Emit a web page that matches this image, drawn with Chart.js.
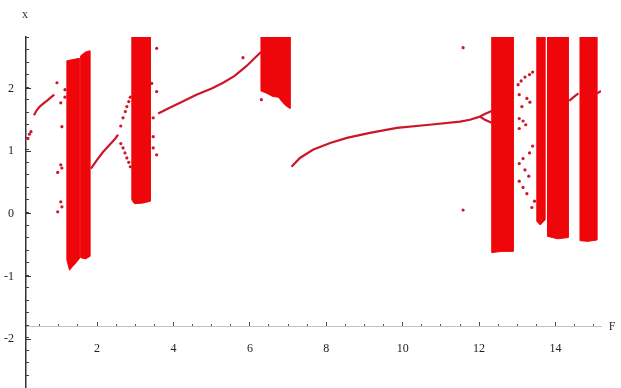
<!DOCTYPE html>
<html>
<head>
<meta charset="utf-8">
<script src="https://cdn.jsdelivr.net/npm/chart.js@4.4.0/dist/chart.umd.min.js"></script>
<style>
    html, body { margin: 0; padding: 0; background: #fff; }
    #wrap { width: 621px; height: 388px; }
</style>
</head>
<body>
<div id="wrap"><canvas id="bifurcation"></canvas></div>
<script>
// Plot range and where the F axis crosses
const xMin = 0.14, xMax = 15.19;
const yMin = -2.78, yMax = 2.82;
const axisCrossY = -1.8;

const xTickValues = [2, 4, 6, 8, 10, 12, 14];
const yTickValues = [-2, -1, 0, 1, 2];

// Chaotic bands: upper and lower edges, left to right (tops above 2.82 get clipped)
const band1aTop = [[1.21, 2.44], [1.53, 2.48]];
const band1aBottom = [[1.21, -0.74], [1.28, -0.9], [1.36, -0.84], [1.45, -0.78], [1.53, -0.72]];
const band1bTop = [[1.57, 2.52], [1.7, 2.58], [1.81, 2.6]];
const band1bBottom = [[1.57, -0.7], [1.7, -0.72], [1.81, -0.68]];
const band2Top = [[2.91, 2.9], [3.39, 2.9]];
const band2Bottom = [[2.91, 0.22], [2.98, 0.16], [3.2, 0.17], [3.39, 0.2]];
const band3Top = [[6.29, 2.9], [7.05, 2.9]];
const band3Bottom = [[6.29, 1.96], [6.45, 1.92], [6.6, 1.87], [6.75, 1.86], [6.85, 1.78], [6.95, 1.72], [7.05, 1.68]];
const band4Top = [[12.33, 2.9], [12.89, 2.9]];
const band4Bottom = [[12.33, -0.62], [12.6, -0.6], [12.89, -0.6]];
const band5Top = [[13.51, 2.9], [13.72, 2.9]];
const band5Bottom = [[13.51, -0.12], [13.6, -0.18], [13.72, -0.1]];
const band6Top = [[13.79, 2.9], [14.33, 2.9]];
const band6Bottom = [[13.79, -0.36], [14.05, -0.4], [14.33, -0.38]];
const band7Top = [[14.64, 2.9], [15.08, 2.9]];
const band7Bottom = [[14.64, -0.43], [14.85, -0.44], [15.08, -0.42]];

// Periodic branches
const branchA = [[0.35, 1.57], [0.42, 1.65], [0.5, 1.71], [0.6, 1.76], [0.7, 1.81], [0.8, 1.86], [0.88, 1.9]];
const branchB = [[1.84, 0.72], [2.0, 0.86], [2.15, 0.98], [2.3, 1.08], [2.45, 1.18], [2.55, 1.26]];
const branchC = [[3.6, 1.6], [3.9, 1.69], [4.2, 1.78], [4.6, 1.9], [5.0, 2.0], [5.3, 2.09], [5.6, 2.2], [5.9, 2.35], [6.1, 2.47], [6.29, 2.58]];
const branchD = [[7.09, 0.75], [7.31, 0.89], [7.65, 1.02], [8.1, 1.13], [8.54, 1.21], [9.14, 1.29], [9.85, 1.37], [10.7, 1.42], [11.5, 1.47], [11.76, 1.5], [12.02, 1.55]];
const branchDUpper = [[12.02, 1.55], [12.15, 1.59], [12.33, 1.64]];
const branchDLower = [[12.02, 1.55], [12.15, 1.5], [12.33, 1.45]];
const branchE = [[14.36, 1.8], [14.47, 1.86], [14.6, 1.92]];
const branchF = [[15.09, 1.92], [15.19, 1.96]];

// Sparse period-doubled arms before the second band
const armUpper = [[2.62, 1.4], [2.68, 1.53], [2.74, 1.63], [2.78, 1.71], [2.83, 1.79], [2.87, 1.86]];
const armLower = [[2.62, 1.12], [2.68, 1.05], [2.73, 0.97], [2.78, 0.89], [2.83, 0.82], [2.87, 0.75]];

// Isolated iterates
const strayPoints = [
    [0.19, 1.2], [0.23, 1.27], [0.27, 1.31],
    [0.95, 2.09], [1.08, 1.39], [1.05, 0.78], [1.08, 0.73], [0.97, 0.66], [1.05, 0.19], [1.08, 0.11], [0.97, 0.03],
    [1.16, 1.98], [1.16, 1.86], [1.05, 1.77],
    [3.56, 2.64], [3.43, 2.08], [3.56, 1.95], [3.47, 1.53], [3.47, 1.23], [3.47, 1.05], [3.56, 0.94],
    [5.82, 2.49], [6.3, 1.82],
    [11.58, 2.65], [11.58, 0.06],
    [13.02, 2.06], [13.1, 2.12], [13.2, 2.18], [13.32, 2.22], [13.4, 2.26],
    [13.05, 1.9], [13.25, 1.84], [13.33, 1.78], [13.12, 1.71],
    [13.05, 1.52], [13.15, 1.48], [13.22, 1.42], [13.05, 1.36],
    [13.4, 1.08], [13.32, 0.97], [13.15, 0.88], [13.05, 0.8], [13.2, 0.7], [13.3, 0.6],
    [13.05, 0.52], [13.15, 0.42], [13.25, 0.32], [13.45, 0.2], [13.38, 0.1]
];

const bandColor = 'rgb(238, 6, 10)';
const lineColor = 'rgb(205, 22, 40)';
const serif = "'Liberation Serif', 'DejaVu Serif', serif";

function toXY(points) {
    return points.map(p => ({ x: p[0], y: p[1] }));
}

function bandDataset(top, bottom) {
    const outline = top.concat(bottom.slice().reverse());
    outline.push(top[0]);
    return {
        data: toXY(outline),
        showLine: true,
        fill: 'shape',
        backgroundColor: bandColor,
        borderColor: bandColor,
        borderWidth: 1,
        pointRadius: 0,
        tension: 0
    };
}

function branchDataset(points) {
    return {
        data: toXY(points),
        showLine: true,
        fill: false,
        borderColor: lineColor,
        borderWidth: 2.2,
        pointRadius: 0,
        tension: 0
    };
}

function dotDataset(points) {
    return {
        data: toXY(points),
        showLine: false,
        pointRadius: 1.6,
        pointBackgroundColor: lineColor,
        pointBorderWidth: 0
    };
}

const datasets = [
    dotDataset(strayPoints),
    dotDataset(armUpper),
    dotDataset(armLower),
    branchDataset(branchA),
    branchDataset(branchB),
    branchDataset(branchC),
    branchDataset(branchD),
    branchDataset(branchDUpper),
    branchDataset(branchDLower),
    branchDataset(branchE),
    branchDataset(branchF),
    bandDataset(band1aTop, band1aBottom),
    bandDataset(band1bTop, band1bBottom),
    bandDataset(band2Top, band2Bottom),
    bandDataset(band3Top, band3Bottom),
    bandDataset(band4Top, band4Bottom),
    bandDataset(band5Top, band5Bottom),
    bandDataset(band6Top, band6Bottom),
    bandDataset(band7Top, band7Bottom)
];

// Axes are drawn inside the plot: no layout space and no label overhang padding,
// so the plot area is set by layout.padding alone
function fitInside(size) {
    return function(scale) {
        if (scale.isHorizontal()) {
            scale.height = 0;
        } else {
            scale.width = size;
        }
        scale.paddingTop = 0;
        scale.paddingBottom = 0;
        scale.paddingLeft = 0;
        scale.paddingRight = 0;
    };
}

// Axis names at the ends of the two axes
const axisNames = {
    id: 'axisNames',
    afterDraw(chart) {
        const ctx = chart.ctx;
        const area = chart.chartArea;
        const xs = chart.scales.x, ys = chart.scales.y;
        ctx.save();
        ctx.fillStyle = '#333';
        ctx.font = '12px ' + serif;
        ctx.textAlign = 'center';
        ctx.textBaseline = 'middle';
        ctx.fillText('x', xs.getPixelForValue(xMin) - 1, area.top - 22);
        ctx.fillText('F', area.right + 11, ys.getPixelForValue(axisCrossY));
        ctx.restore();
    }
};

new Chart(document.getElementById('bifurcation').getContext('2d'), {
    type: 'scatter',
    data: { datasets: datasets },
    options: {
        responsive: true,
        maintainAspectRatio: false,
        animation: false,
        layout: { autoPadding: false, padding: { left: 0, top: 37, right: 20, bottom: 0 } },
        plugins: {
            legend: { display: false },
            tooltip: { enabled: false }
        },
        scales: {
            x: {
                type: 'linear',
                min: xMin,
                max: xMax,
                position: { y: axisCrossY },
                afterFit: fitInside(0),
                afterBuildTicks: scale => { scale.ticks = xTickValues.map(v => ({ value: v })); },
                grid: { drawOnChartArea: false, tickLength: -5, tickColor: '#444', tickWidth: 1 },
                border: { color: '#c4c4c4', width: 1 },
                ticks: { autoSkip: false, maxRotation: 0, padding: 20, color: '#222', font: { family: serif, size: 12 } }
            },
            xMinor: {
                type: 'linear',
                axis: 'x',
                min: xMin,
                max: xMax,
                position: { y: axisCrossY },
                afterFit: fitInside(0),
                grid: { drawOnChartArea: false, tickLength: -3, tickColor: '#555', tickWidth: 1 },
                border: { display: false },
                ticks: { display: false, stepSize: 0.5, includeBounds: false }
            },
            y: {
                type: 'linear',
                min: yMin,
                max: yMax,
                position: 'left',
                afterFit: fitInside(26),
                afterBuildTicks: scale => { scale.ticks = yTickValues.map(v => ({ value: v })); },
                grid: { drawOnChartArea: false, tickLength: -5, tickColor: '#333', tickWidth: 1 },
                border: { color: '#333', width: 1.5 },
                ticks: { padding: 17, color: '#222', font: { family: serif, size: 12 } }
            },
            yMinor: {
                type: 'linear',
                axis: 'y',
                min: yMin,
                max: yMax,
                position: { x: xMin },
                afterFit: fitInside(0),
                grid: { drawOnChartArea: false, tickLength: -3, tickColor: '#444', tickWidth: 1 },
                border: { display: false },
                ticks: { display: false, stepSize: 0.2, includeBounds: false }
            }
        }
    },
    plugins: [axisNames]
});
</script>
</body>
</html>
